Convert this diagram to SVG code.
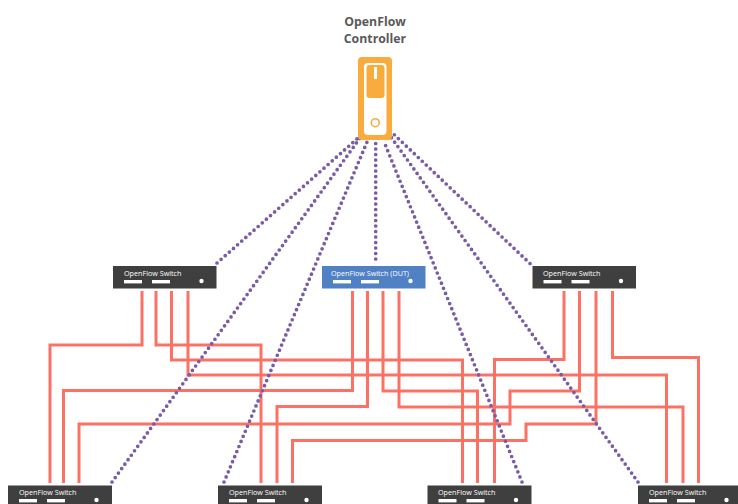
<svg xmlns="http://www.w3.org/2000/svg" width="738" height="504" viewBox="0 0 738 504">
<style>
.sw{fill:#3f3f3f}
.dut{fill:#4f81c4}
.bar,.dot{fill:#fff}
.lbl{font-family:"Open Sans","Liberation Sans",sans-serif;font-size:7.2px;fill:#fff}
.title{font-family:"Open Sans","Liberation Sans",sans-serif;font-size:12.3px;font-weight:700;fill:#595959;text-anchor:middle}
.link{fill:none;stroke:#fb7265;stroke-width:3}
.ctl{fill:none;stroke:#7a5ca6;stroke-width:3.7;stroke-linecap:round;stroke-dasharray:0 5.5}
</style>
<defs>
<g id="face">
<rect class="bar" x="11" y="14" width="18" height="3.4"/>
<rect class="bar" x="39" y="14" width="18" height="3.4"/>
<circle class="dot" cx="88.5" cy="15" r="2.2"/>
</g>
</defs>
<g id="connectors">
<g id="data">
<path class="link" d="M142 291V345H50V483"/>
<path class="link" d="M156 291V345H261V483"/>
<path class="link" d="M171.500 291V360H462.500V483"/>
<path class="link" d="M188 291V375H666.500V483"/>
<path class="link" d="M352.500 291V390.500H63.500V483"/>
<path class="link" d="M367.500 291V406.500H277V483"/>
<path class="link" d="M383 291V391H477.500V483"/>
<path class="link" d="M399 291V407H683V483"/>
<path class="link" d="M564 291V359.500H494.500V483"/>
<path class="link" d="M579.500 291V391H510V424H79V483"/>
<path class="link" d="M596 291V424H526V440.500H292.500V483"/>
<path class="link" d="M612.500 291V357.500H698.500V483"/>
</g>
<g id="control">
<path class="ctl" d="M217 263L358 138"/>
<path class="ctl" d="M112 482L360 138"/>
<path class="ctl" d="M224 482L367 142"/>
<path class="ctl" d="M375.700 259V142"/>
<path class="ctl" d="M522 482L385 144"/>
<path class="ctl" d="M638 482L391 137"/>
<path class="ctl" d="M530 263.500L392.500 133"/>
</g>
</g>
<g id="controller">
<text class="title" x="375" y="26">OpenFlow</text>
<text class="title" x="375" y="43">Controller</text>
<rect x="358" y="57" width="34" height="83" rx="4" fill="#f9ab3d"/>
<rect x="364" y="63" width="22.500" height="72" rx="4" fill="#fff"/>
<rect x="366.500" y="65" width="18" height="33" rx="3" fill="#f9ab3d"/>
<rect x="374" y="67" width="3" height="12" fill="#fff"/>
<circle cx="375.300" cy="122.700" r="4" fill="#fff" stroke="#f9ab3d" stroke-width="1.600"/>
</g>
<g id="switch-top-left">
<rect class="sw" x="113" y="266" width="103.500" height="22.500"/>
<text class="lbl" x="124" y="276">OpenFlow Switch</text>
<use href="#face" x="113" y="266"/>
</g>
<g id="switch-dut">
<rect class="dut" x="322" y="266" width="103.500" height="22.500"/>
<text class="lbl" x="331" y="276">OpenFlow Switch (DUT)</text>
<use href="#face" x="322" y="266"/>
</g>
<g id="switch-top-right">
<rect class="sw" x="532.500" y="266" width="103.500" height="22.500"/>
<text class="lbl" x="543" y="276">OpenFlow Switch</text>
<use href="#face" x="532.500" y="266"/>
</g>
<g id="switch-bottom-1">
<rect class="sw" x="8" y="485.500" width="104" height="22"/>
<text class="lbl" x="19" y="495">OpenFlow Switch</text>
<use href="#face" x="8" y="485"/>
</g>
<g id="switch-bottom-2">
<rect class="sw" x="218" y="485.500" width="104" height="22"/>
<text class="lbl" x="229" y="495">OpenFlow Switch</text>
<use href="#face" x="218" y="485"/>
</g>
<g id="switch-bottom-3">
<rect class="sw" x="427.500" y="485.500" width="104" height="22"/>
<text class="lbl" x="438" y="495">OpenFlow Switch</text>
<use href="#face" x="427.500" y="485"/>
</g>
<g id="switch-bottom-4">
<rect class="sw" x="638" y="485.500" width="104" height="22"/>
<text class="lbl" x="649" y="495">OpenFlow Switch</text>
<use href="#face" x="638" y="485"/>
</g>
</svg>
